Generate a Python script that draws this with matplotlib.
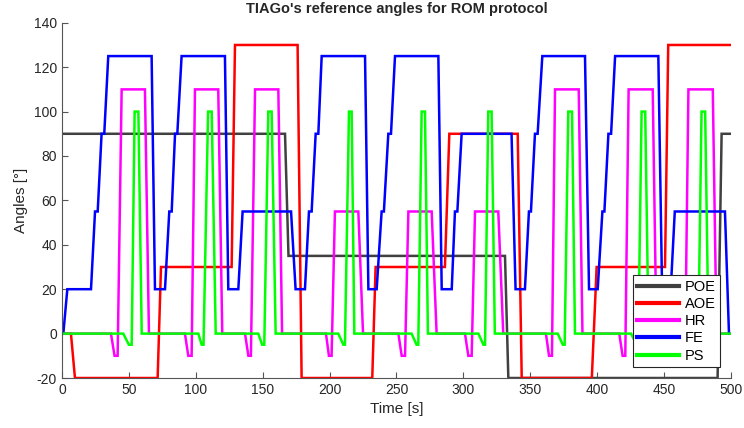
import matplotlib
matplotlib.use("Agg")
import matplotlib.pyplot as plt

plt.rcParams["font.family"] = ["Liberation Sans", "DejaVu Sans"]
plt.rcParams["axes.unicode_minus"] = False

# Reference angles as (time [s], angle [deg]) breakpoints
poe_t = [0, 166.7, 169.3, 331.1, 333.6, 490, 493, 500]
poe_v = [90, 90, 35, 35, -20, -20, 90, 90]

aoe_t = [0, 6.7, 9.7, 71.5, 74, 126.8, 129.3, 176.1, 179.1, 231.9, 234.4,
         286.2, 289.5, 340.6, 343.6, 396, 399.6, 450.7, 453.1, 500]
aoe_v = [0, 0, -20, -20, 30, 30, 130, 130, -20, -20, 30,
         30, 90, 90, -20, -20, 30, 30, 130, 130]

hr_t = [0, 36.6, 39.3, 41.6, 44.6, 62, 65,
        91.9, 94.4, 96.9, 99.4, 116.8, 119.8,
        136.8, 139.3, 141.2, 144.3, 161.7, 164.5,
        197.3, 199.5, 201.5, 204, 221.5, 225,
        251.4, 253.9, 256.4, 258.9, 276.3, 280,
        301.2, 303.7, 306.2, 308.7, 326.1, 329.8,
        361.7, 364, 366.2, 368.5, 386.2, 389,
        416.5, 419, 421, 423.5, 441.5, 444.3,
        461.2, 463.7, 465.7, 468.2, 486.4, 489.2, 500]
hr_v = [0, 0, -10, -10, 110, 110, 0,
        0, -10, -10, 110, 110, 0,
        0, -10, -10, 110, 110, 0,
        0, -10, -10, 55, 55, 0,
        0, -10, -10, 55, 55, 0,
        0, -10, -10, 55, 55, 0,
        0, -10, -10, 110, 110, 0,
        0, -10, -10, 110, 110, 0,
        0, -10, -10, 110, 110, 0, 0]

fe_t = [0, 1, 4, 21.7, 24.7, 26.7, 29.6, 31.6, 34.6, 67, 69.5,
        77, 80.2, 82, 84.5, 86.2, 89.4, 121.8, 124.3,
        131.8, 135, 171.2, 174.6,
        181.6, 184.6, 186.6, 189.6, 191.6, 194.1, 226.5, 229,
        235.2, 238.9, 240.6, 243.9, 245.9, 248.9, 281.3, 283.8,
        291.3, 293.7, 295.5, 298.7, 336, 339,
        346, 349, 350.5, 353.5, 355.5, 359, 390.9, 393.9,
        400.4, 403.9, 405.4, 408.4, 410.4, 413.4, 445.7, 448.5,
        455, 458, 495.5, 498.5]
fe_v = [0, 0, 20, 20, 55, 55, 90, 90, 125, 125, 20,
        20, 55, 55, 90, 90, 125, 125, 20,
        20, 55, 55, 20,
        20, 55, 55, 90, 90, 125, 125, 20,
        20, 55, 55, 90, 90, 125, 125, 20,
        20, 55, 55, 90, 90, 20,
        20, 55, 55, 90, 90, 125, 125, 20,
        20, 55, 55, 90, 90, 125, 125, 20,
        20, 55, 55, 0]

ps_t = [0, 45.8, 50, 52.1, 54.3, 57.1, 59.6,
        101.9, 104.4, 105.8, 109.2, 111.9, 114.9,
        146.7, 149.6, 151.2, 154.2, 156.7, 159.7,
        206.5, 210.3, 211.5, 214.5, 216.5, 218.5,
        261.3, 265, 266.3, 268.8, 271.3, 273.5,
        311.2, 315, 316.2, 318.6, 321.1, 323.5,
        370.5, 374.3, 375.7, 378.4, 381.2, 383.4,
        425.3, 429.5, 430.7, 433.2, 435.9, 438.4,
        470, 474, 475.5, 478, 480.7, 483.2, 500]
ps_v = [0, 0, -5, -5, 100, 100, 0,
        0, -5, -5, 100, 100, 0,
        0, -5, -5, 100, 100, 0,
        0, -5, -5, 100, 100, 0,
        0, -5, -5, 100, 100, 0,
        0, -5, -5, 100, 100, 0,
        0, -5, -5, 100, 100, 0,
        0, -5, -5, 100, 100, 0,
        0, -5, -5, 100, 100, 0, 0]

labels = ["POE", "AOE", "HR", "FE", "PS"]
colors = ["#404040", "#ff0000", "#ff00ff", "#0000ff", "#00ff00"]

fig = plt.figure(figsize=(7.44, 4.28), dpi=100)
ax = fig.add_axes([0.0833, 0.1168, 0.8992, 0.830])

series = [(poe_t, poe_v), (aoe_t, aoe_v), (hr_t, hr_v), (fe_t, fe_v), (ps_t, ps_v)]
for (t, v), lab, col in zip(series, labels, colors):
    ax.plot(t, v, color=col, lw=1.8, label=lab, solid_joinstyle="miter")

ax.set_xlim(0, 500)
ax.set_ylim(-20, 140)
ax.set_xticks(range(0, 501, 50))
ax.set_yticks(range(-20, 141, 20))
for side in ("top", "right"):
    ax.spines[side].set_visible(False)
for side in ("left", "bottom"):
    ax.spines[side].set_color("#555555")
ax.tick_params(direction="in", length=4, colors="#555555", labelcolor="#262626",
               labelsize=10)

ax.set_title("TIAGo's reference angles for ROM protocol", fontsize=10.5,
             fontweight="bold", color="#262626", pad=7)
ax.set_xlabel("Time [s]", fontsize=11, color="#262626")
ax.set_ylabel("Angles [°]", fontsize=11, color="#262626")

leg = ax.legend(loc="lower right", bbox_to_anchor=(0.984, 0.031),
                borderaxespad=0, fontsize=10.5, handlelength=2.9,
                labelspacing=0.22, fancybox=False, framealpha=1,
                edgecolor="#262626", borderpad=0.3, handletextpad=0.4)
leg.get_frame().set_linewidth(0.8)
for h in leg.get_lines():
    h.set_linewidth(3.0)

fig.savefig("out.png", dpi=100)
